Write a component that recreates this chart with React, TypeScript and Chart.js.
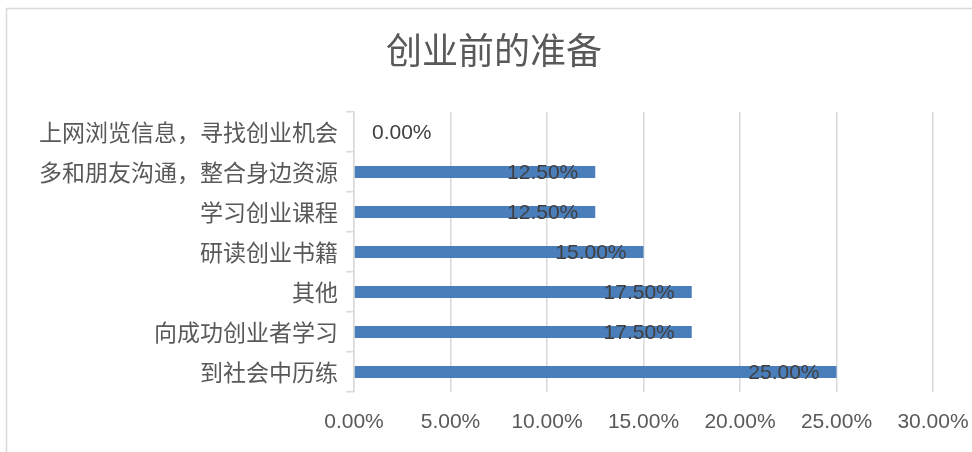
import React, { useEffect, useRef } from "react";
import { Chart, registerables } from "chart.js";

Chart.register(...registerables);

const titleText = "创业前的准备";
const categories = [
  "上网浏览信息，寻找创业机会",
  "多和朋友沟通，整合身边资源",
  "学习创业课程",
  "研读创业书籍",
  "其他",
  "向成功创业者学习",
  "到社会中历练",
];
const values = [0, 12.5, 12.5, 15, 17.5, 17.5, 25];
const xMin = 0;
const xMax = 30;
const xStep = 5;

const CJK = '"Noto Sans CJK SC", "Noto Sans", sans-serif';
const NUM = '"Liberation Sans", Arial, sans-serif';

const framePlugin = {
  id: "frameAndTitle",
  beforeDraw(chart: any) {
    const ctx = chart.ctx;
    ctx.save();
    ctx.fillStyle = "#ffffff";
    ctx.fillRect(0, 0, chart.width, chart.height);
    ctx.strokeStyle = "#d9d9d9";
    ctx.lineWidth = 1.5;
    ctx.strokeRect(6.5, 8.5, 990, 500);
    ctx.fillStyle = "#595959";
    ctx.font = `36px ${CJK}`;
    ctx.textAlign = "center";
    ctx.textBaseline = "middle";
    ctx.fillText(titleText, 494, 50);
    ctx.restore();
  },
  afterDatasetsDraw(chart: any) {
    const ctx = chart.ctx;
    const meta = chart.getDatasetMeta(0);
    ctx.save();
    ctx.font = `21px ${NUM}`;
    ctx.fillStyle = "#404040";
    ctx.textBaseline = "middle";
    meta.data.forEach((el: any, i: number) => {
      const v = values[i];
      const label = v.toFixed(2) + "%";
      if (v === 0) {
        ctx.textAlign = "left";
        ctx.fillText(label, el.base + 18, el.y + 1);
      } else {
        ctx.textAlign = "right";
        ctx.fillText(label, el.x - 17, el.y + 1);
      }
    });
    ctx.restore();
  },
};

export default function App() {
  const ref = useRef<HTMLCanvasElement | null>(null);
  useEffect(() => {
    if (!ref.current) return;
    const chart = new Chart(ref.current, {
      type: "bar",
      data: {
        labels: categories,
        datasets: [
          {
            data: values,
            backgroundColor: "#4a7ebb",
            borderWidth: 0,
            barPercentage: 0.3,
            categoryPercentage: 1,
          },
        ],
      },
      options: {
        indexAxis: "y",
        animation: false,
        responsive: false,
        maintainAspectRatio: false,
        layout: { padding: { top: 112, right: 39, bottom: 0, left: 0 } },
        plugins: {
          legend: { display: false },
          title: { display: false },
          tooltip: { enabled: false },
        },
        scales: {
          x: {
            min: xMin,
            max: xMax,
            afterFit: (s: any) => {
              s.height = 60;
              s.paddingRight = 0;
            },
            ticks: {
              stepSize: xStep,
              color: "#595959",
              font: { family: NUM, size: 21 },
              padding: 18,
              callback: (v: any) => Number(v).toFixed(2) + "%",
            },
            grid: {
              color: "#d9d9d9",
              lineWidth: 1.5,
              drawTicks: false,
            },
            border: { display: false },
          },
          y: {
            afterFit: (s: any) => {
              s.width = 354;
            },
            ticks: {
              color: "#595959",
              font: { family: CJK, size: 23 },
              padding: 8,
            },
            grid: {
              offset: true,
              drawOnChartArea: false,
              drawTicks: true,
              tickLength: 8,
              color: "#d9d9d9",
              lineWidth: 1.5,
            },
            border: { display: true, color: "#d9d9d9", width: 1.5 },
          },
        },
      },
      plugins: [framePlugin],
    });
    return () => chart.destroy();
  }, []);
  return (
    <div style={{ position: "absolute", left: 0, top: 0, width: 972, height: 452 }}>
      <canvas ref={ref} width={972} height={452} />
    </div>
  );
}
